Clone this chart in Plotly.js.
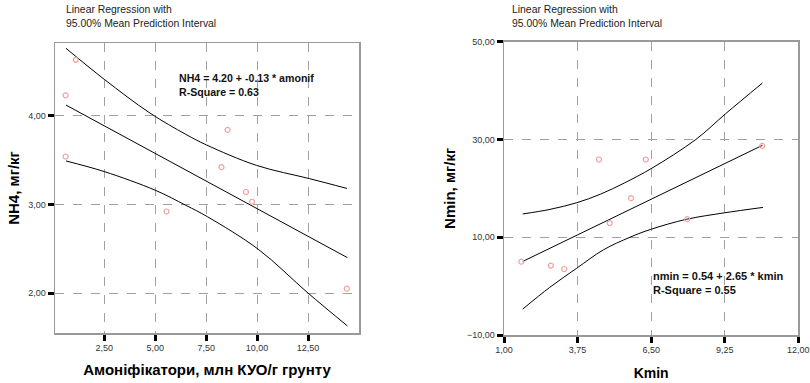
<!DOCTYPE html>
<html>
<head>
<meta charset="utf-8">
<script src="https://cdn.plot.ly/plotly-3.0.1.min.js"></script>
<style>
  html, body { margin: 0; padding: 0; background: #fff; }
  #chart { width: 810px; height: 383px; }
</style>
</head>
<body>
<div id="chart"></div>
<script>
// Left panel: NH4 vs ammonifiers
const amonifX = [0.6, 0.6, 1.1, 5.55, 8.25, 8.55, 9.45, 9.75, 14.4];
const nh4Y    = [4.23, 3.54, 4.63, 2.92, 3.42, 3.84, 3.14, 3.03, 2.05];

const nh4FitX = [0.62, 14.43];
const nh4FitY = [4.12, 2.40];

const nh4UpperX = [0.62, 2.5, 4.74, 6.5, 7.52, 9.97, 12.58, 14.41];
const nh4UpperY = [4.76, 4.41, 4.03, 3.79, 3.67, 3.44, 3.29, 3.18];
const nh4LowerX = [0.62, 2.5, 5.0, 6.5, 7.57, 10.08, 12.5, 14.43];
const nh4LowerY = [3.49, 3.37, 3.16, 2.99, 2.86, 2.49, 2.0, 1.63];

const nh4XTicks = [2.5, 5.0, 7.5, 10.0, 12.5];
const nh4YTicks = [2, 3, 4];

// Right panel: Nmin vs Kmin
const kminX = [1.65, 2.75, 3.25, 4.55, 4.95, 5.75, 6.3, 7.85, 10.65];
const nminY = [5.0, 4.2, 3.5, 25.9, 12.9, 18.0, 25.9, 13.7, 28.7];

const nminFitX = [1.7, 10.66];
const nminFitY = [5.05, 28.8];

const nminUpperX = [1.7, 2.72, 3.72, 4.6, 5.5, 6.52, 8.17, 9.29, 10.66];
const nminUpperY = [14.76, 15.7, 17.06, 18.8, 21.1, 24.1, 30.0, 35.3, 41.55];
const nminLowerX = [1.7, 2.7, 3.72, 4.71, 5.71, 6.48, 7.82, 9.25, 10.68];
const nminLowerY = [-4.7, -0.3, 3.67, 7.4, 10.0, 11.6, 13.67, 15.0, 16.1];

const nminXTicks = [1.0, 3.75, 6.5, 9.25, 12.0];
const nminYTicks = [-10, 10, 30, 50];

const W = 810, H = 383;
const FONT = 'Liberation Sans, Arial, sans-serif';

function pointTrace(x, y, xa, ya) {
  return {
    x: x, y: y, xaxis: xa, yaxis: ya, type: 'scatter', mode: 'markers',
    marker: { symbol: 'circle-open', size: 5, color: 'rgb(245,160,160)', line: { width: 1.2 } },
    hoverinfo: 'skip', showlegend: false
  };
}
function lineTrace(x, y, xa, ya) {
  return {
    x: x, y: y, xaxis: xa, yaxis: ya, type: 'scatter', mode: 'lines',
    line: { color: '#000', width: 1, shape: 'spline', smoothing: 1 },
    hoverinfo: 'skip', showlegend: false
  };
}

const data = [
  lineTrace(nh4UpperX, nh4UpperY, 'x', 'y'),
  lineTrace(nh4FitX, nh4FitY, 'x', 'y'),
  lineTrace(nh4LowerX, nh4LowerY, 'x', 'y'),
  pointTrace(amonifX, nh4Y, 'x', 'y'),
  lineTrace(nminUpperX, nminUpperY, 'x2', 'y2'),
  lineTrace(nminFitX, nminFitY, 'x2', 'y2'),
  lineTrace(nminLowerX, nminLowerY, 'x2', 'y2'),
  pointTrace(kminX, nminY, 'x2', 'y2')
];

function axis(domain, range, ticks, anchor, extra) {
  return Object.assign({
    domain: domain, range: range, anchor: anchor,
    tickmode: 'array', tickvals: ticks, tickformat: '.2f',
    ticks: 'outside', ticklen: 6, tickwidth: 3, tickcolor: '#000',
    tickfont: { family: FONT, size: 9, color: '#333' },
    showgrid: true, gridcolor: '#a0a0a0', gridwidth: 1, griddash: 'dash',
    zeroline: false, showline: true, mirror: true, linecolor: '#999', linewidth: 1.5,
    fixedrange: true
  }, extra || {});
}

const titleFont = (size) => ({ family: FONT, size: size, color: '#000', weight: 'bold' });

const layout = {
  width: W, height: H,
  margin: { l: 0, r: 0, t: 0, b: 0 },
  paper_bgcolor: '#fff', plot_bgcolor: '#fff',
  separators: ', ',
  showlegend: false,
  xaxis: axis([55 / W, 359 / W], [0.08, 15.0], nh4XTicks, 'y', {
    title: { text: 'Амоніфікатори, млн КУО/г грунту', font: titleFont(15), standoff: 12 }
  }),
  yaxis: axis([1 - 333 / H, 1 - 43 / H], [1.55, 4.82], nh4YTicks, 'x', {
    title: { text: 'NH4, мг/кг', font: titleFont(15), standoff: 5 }
  }),
  xaxis2: axis([504 / W, 798.3 / W], [1, 12], nminXTicks, 'y2', {
    title: { text: 'Kmin', font: titleFont(14), standoff: 14 }
  }),
  yaxis2: axis([1 - 335 / H, 1 - 41.7 / H], [-10, 50], nminYTicks, 'x2', {
    title: { text: 'Nmin, мг/кг', font: titleFont(15), standoff: 7 }
  }),
  annotations: [
    { xref: 'paper', yref: 'paper', x: 64 / W, y: 1 - 2 / H, xanchor: 'left', yanchor: 'top', align: 'left',
      showarrow: false, text: 'Linear Regression with<br>95.00% Mean Prediction Interval',
      font: { family: FONT, size: 10.4, color: '#222' } },
    { xref: 'paper', yref: 'paper', x: 510 / W, y: 1 - 2 / H, xanchor: 'left', yanchor: 'top', align: 'left',
      showarrow: false, text: 'Linear Regression with<br>95.00% Mean Prediction Interval',
      font: { family: FONT, size: 10.4, color: '#222' } },
    { xref: 'paper', yref: 'paper', x: 177 / W, y: 1 - 70 / H, xanchor: 'left', yanchor: 'top', align: 'left',
      showarrow: false, text: '<b>NH4 = 4.20 + -0.13 * amonif<br>R-Square = 0.63</b>',
      font: { family: FONT, size: 10.6, color: '#111' } },
    { xref: 'paper', yref: 'paper', x: 651 / W, y: 1 - 268 / H, xanchor: 'left', yanchor: 'top', align: 'left',
      showarrow: false, text: '<b>nmin = 0.54 + 2.65 * kmin<br>R-Square = 0.55</b>',
      font: { family: FONT, size: 11, color: '#111' } }
  ]
};

Plotly.newPlot('chart', data, layout, { displayModeBar: false, staticPlot: true });
</script>
</body>
</html>
